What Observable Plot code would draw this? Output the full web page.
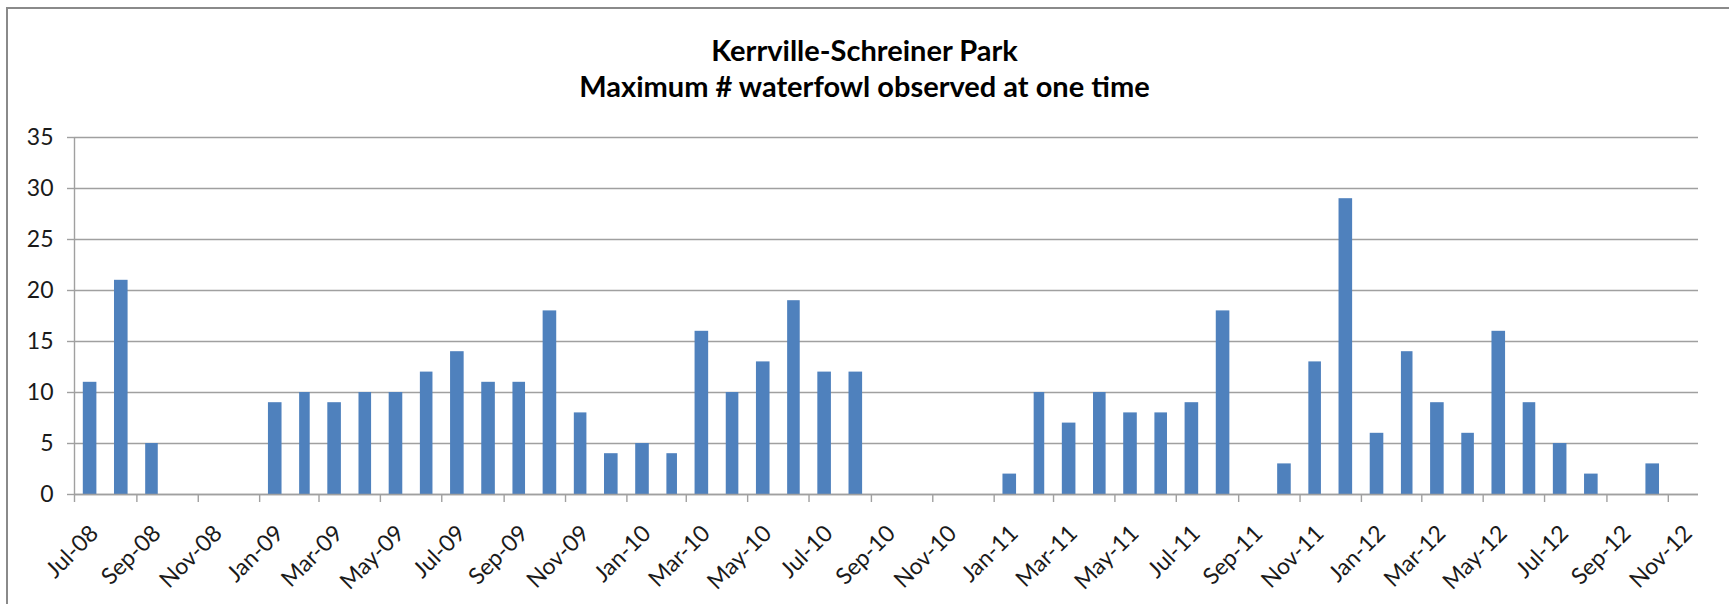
<!DOCTYPE html>
<html>
<head>
<meta charset="utf-8">
<script src="https://cdn.jsdelivr.net/npm/d3@7"></script>
<script src="https://cdn.jsdelivr.net/npm/@observablehq/plot@0.6"></script>
<style>
  html, body { margin: 0; padding: 0; background: #fff; }
  #page { position: relative; width: 1729px; height: 604px; overflow: hidden; background: #fff; }
  #frame { position: absolute; left: 6px; top: 7px; width: 1740px; height: 620px;
           border-left: 2.5px solid #8a8a8a; border-top: 2.5px solid #8a8a8a; box-sizing: border-box; }
  #title { position: absolute; top: 32px; left: 0; width: 1729px; text-align: center;
           font-family: Lato, "Open Sans", sans-serif; font-weight: bold; font-size: 29px;
           line-height: 36px; color: #000; }
  #chart { position: absolute; left: 0; top: 110px; }
</style>
</head>
<body>
<div id="page">
  <div id="frame"></div>
  <div id="title">Kerrville-Schreiner Park<br>Maximum # waterfowl observed at one time</div>
  <div id="chart"></div>
</div>
<script>
const months = [
  "Jul-08","Aug-08","Sep-08","Oct-08","Nov-08","Dec-08",
  "Jan-09","Feb-09","Mar-09","Apr-09","May-09","Jun-09","Jul-09","Aug-09","Sep-09","Oct-09","Nov-09","Dec-09",
  "Jan-10","Feb-10","Mar-10","Apr-10","May-10","Jun-10","Jul-10","Aug-10","Sep-10","Oct-10","Nov-10","Dec-10",
  "Jan-11","Feb-11","Mar-11","Apr-11","May-11","Jun-11","Jul-11","Aug-11","Sep-11","Oct-11","Nov-11","Dec-11",
  "Jan-12","Feb-12","Mar-12","Apr-12","May-12","Jun-12","Jul-12","Aug-12","Sep-12","Oct-12","Nov-12"
];
const waterfowl = [
  11, 21, 5, 0, 0, 0,
  9, 10, 9, 10, 10, 12, 14, 11, 11, 18, 8, 4,
  5, 4, 16, 10, 13, 19, 12, 12, 0, 0, 0, 0,
  2, 10, 7, 10, 8, 8, 9, 18, 0, 3, 13, 29,
  6, 14, 9, 6, 16, 9, 5, 2, 0, 3, 0
];
const xTickLabels = [
  "Jul-08","Sep-08","Nov-08","Jan-09","Mar-09","May-09","Jul-09","Sep-09","Nov-09",
  "Jan-10","Mar-10","May-10","Jul-10","Sep-10","Nov-10","Jan-11","Mar-11","May-11",
  "Jul-11","Sep-11","Nov-11","Jan-12","Mar-12","May-12","Jul-12","Sep-12","Nov-12"
];
const yTicks = [0, 5, 10, 15, 20, 25, 30, 35];

const parse = d3.utcParse("%b-%y");
const data = months.map((m, i) => {
  const start = parse(m);
  return {start, end: d3.utcMonth.offset(start, 1), value: waterfowl[i]};
});
const xTicks = xTickLabels.map(parse);
const domainStart = data[0].start;
const domainEnd = data[data.length - 1].end;

const gridColor = "#a0a0a0";
const chart = Plot.plot({
  width: 1729,
  height: 494,
  marginLeft: 74,
  marginRight: 31,
  marginTop: 27,
  marginBottom: 110,
  style: {fontFamily: "Lato, 'Open Sans', sans-serif", fontSize: "23px", color: "#1a1a1a", background: "transparent"},
  x: {type: "utc", domain: [domainStart, domainEnd]},
  y: {domain: [0, 35]},
  marks: [
    Plot.gridY(yTicks, {stroke: gridColor, strokeOpacity: 1, strokeWidth: 1.4}),
    Plot.rectY(data, {x1: "start", x2: "end", y: "value", fill: "#4F81BD", insetLeft: 8.8, insetRight: 8.8}),
    Plot.ruleX([domainStart], {stroke: gridColor, strokeWidth: 1.4}),
    Plot.ruleY([0], {stroke: gridColor, strokeWidth: 1.6}),
    Plot.axisY(yTicks, {tickSize: 7, tickPadding: 14, stroke: gridColor, strokeWidth: 1.4, fill: "#1a1a1a", label: null, tickFormat: d => String(d)}),
    // tick marks only (labels blank)
    Plot.axisX(xTicks, {tickSize: 8, stroke: gridColor, strokeWidth: 1.4, label: null, tickFormat: () => ""}),
    // rotated labels, offset to the right of their ticks
    Plot.axisX(xTicks, {tickSize: 0, tickPadding: 35, tickRotate: -45, textAnchor: "end", lineAnchor: "middle",
      dx: 20, fontSize: 23, stroke: "none", fill: "#1a1a1a", label: null, tickFormat: d3.utcFormat("%b-%y")})
  ]
});
document.getElementById("chart").appendChild(chart);
</script>
</body>
</html>
